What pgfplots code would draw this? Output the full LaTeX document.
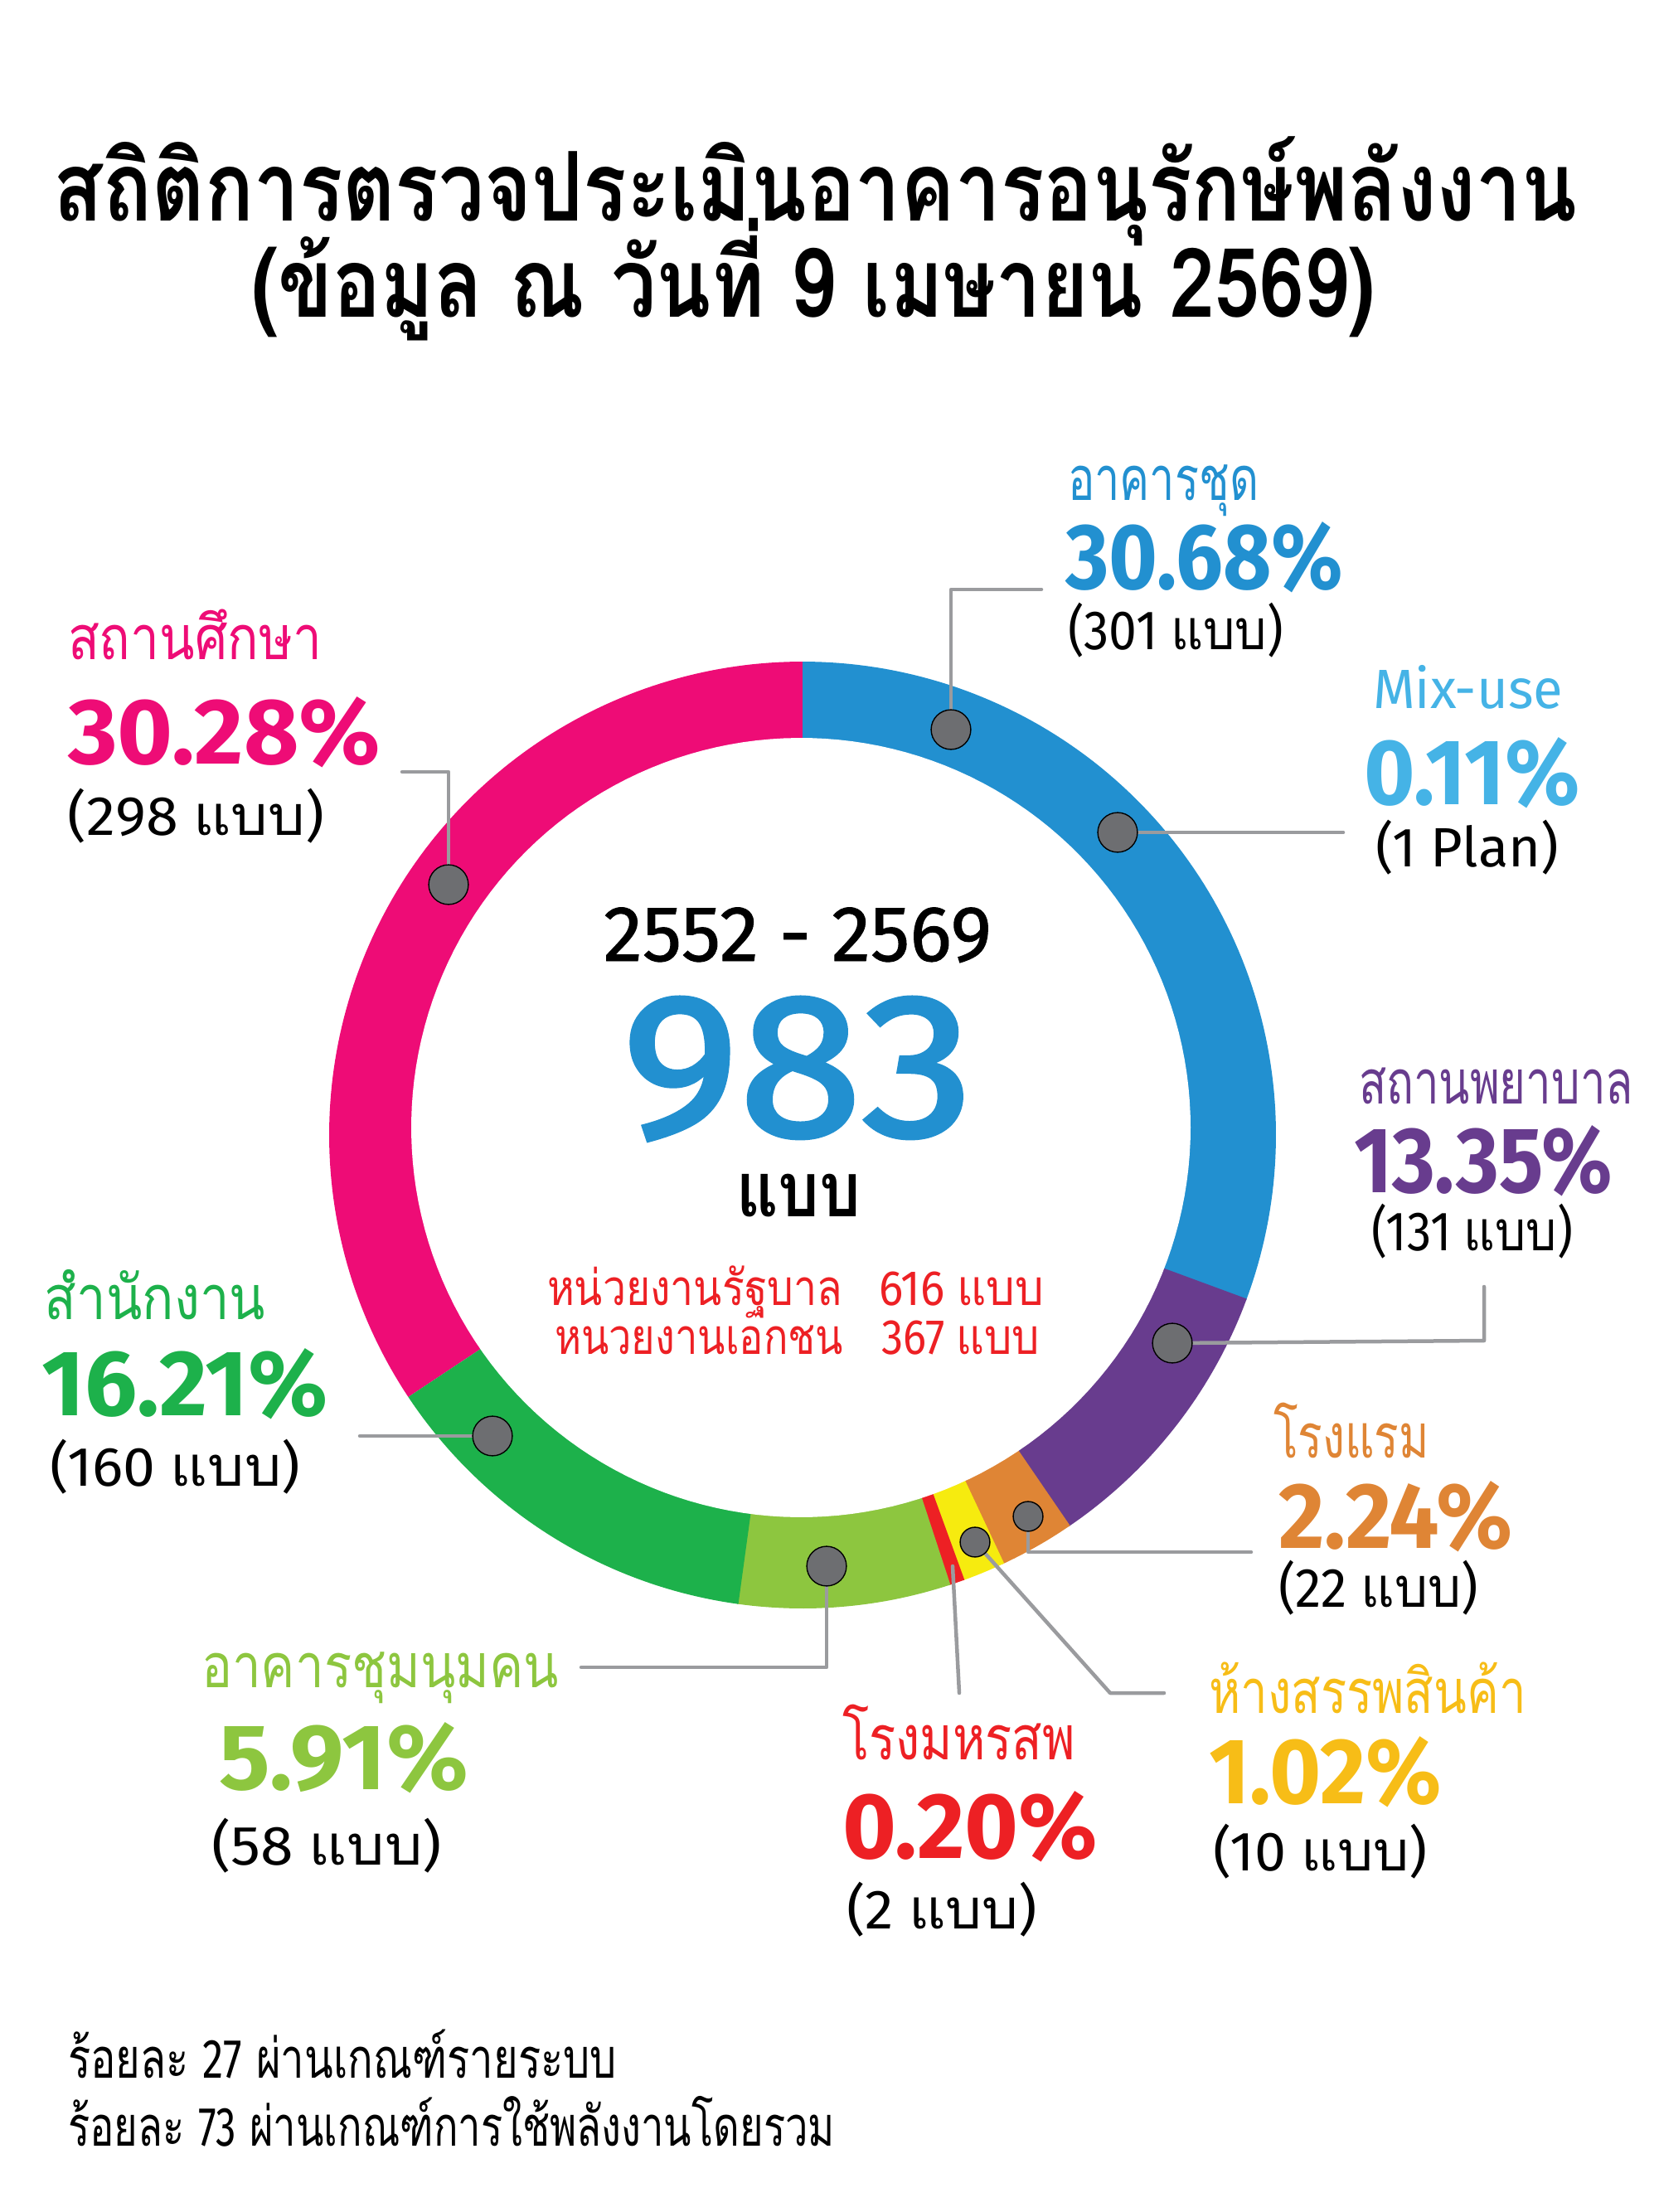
\documentclass[border=0pt]{standalone}
\usepackage{fontspec}
\usepackage{graphicx}
\usepackage{pgfplots}
\pgfplotsset{compat=1.18}
\setmainfont[Script=Thai]{Loma}
\newfontfamily\fira{Fira Sans}
\newfontfamily\firafb[FakeBold=2]{Fira Sans}
\newfontfamily\firamb[FakeBold=1]{Fira Sans}
\newlength\pxu \setlength\pxu{0.1mm}
\definecolor{cblue}{HTML}{2290D0}
\definecolor{clblue}{HTML}{45B3E6}
\definecolor{cpurple}{HTML}{683C8E}
\definecolor{corange}{HTML}{DF8535}
\definecolor{cyellow}{HTML}{F6EB0F}
\definecolor{cgold}{HTML}{F7BD17}
\definecolor{cred}{HTML}{ED2024}
\definecolor{clgreen}{HTML}{8DC63F}
\definecolor{cgreen}{HTML}{1DB14B}
\definecolor{cpink}{HTML}{EE0C76}
\definecolor{cdot}{HTML}{6D6E71}
\definecolor{cline}{HTML}{9A9B9E}
% x, y (baseline, px), width (px), colour, font, text
\newcommand\tx[6]{\node[anchor=base west, inner sep=0pt, outer sep=0pt, text=#4] at (axis cs:#1,#2) {\resizebox{#3\pxu}{\height}{#5#6}};}
\newcommand\thn{\fontsize{21}{24}\selectfont}
\newcommand\pct{\fontsize{32}{36}\selectfont\fira\bfseries}
\newcommand\cnt{\fontsize{19}{22}\selectfont}
\begin{document}
\begin{tikzpicture}
\begin{axis}[
  at={(0,0)}, anchor=south west,
  scale only axis, width=200.1mm, height=266.8mm,
  xmin=0, xmax=2001, ymin=0, ymax=2668, y dir=reverse,
  hide axis, clip=false]
\path (rel axis cs:0,0) rectangle (rel axis cs:1,1);
% ring: drawn boundaries (degrees, counter-clockwise from east), counts 301,1,131,22,10,2,58,160,298
\addplot[fill=cpink, draw=none, domain=89.7:213.6, samples=120] ({968+571*cos(x)},{1369-571*sin(x)}) -- (axis cs:968,1369) -- cycle;
\addplot[fill=cblue, draw=none, domain=-20.44:90, samples=100] ({968+571*cos(x)},{1369-571*sin(x)}) -- (axis cs:968,1369) -- cycle;
\addplot[fill=cpurple, draw=none, domain=-55.8:-20.24, samples=40] ({968+571*cos(x)},{1369-571*sin(x)}) -- (axis cs:968,1369) -- cycle;
\addplot[fill=corange, draw=none, domain=-65.0:-55.6, samples=12] ({968+571*cos(x)},{1369-571*sin(x)}) -- (axis cs:968,1369) -- cycle;
\addplot[fill=cyellow, draw=none, domain=-70.2:-64.8, samples=8] ({968+571*cos(x)},{1369-571*sin(x)}) -- (axis cs:968,1369) -- cycle;
\addplot[fill=cred, draw=none, domain=-72.0:-70.0, samples=4] ({968+571*cos(x)},{1369-571*sin(x)}) -- (axis cs:968,1369) -- cycle;
\addplot[fill=clgreen, draw=none, domain=-98.0:-71.8, samples=30] ({968+571*cos(x)},{1369-571*sin(x)}) -- (axis cs:968,1369) -- cycle;
\addplot[fill=cgreen, draw=none, domain=-146.4:-97.8, samples=50] ({968+571*cos(x)},{1369-571*sin(x)}) -- (axis cs:968,1369) -- cycle;
\addplot[fill=white, draw=none, domain=0:360, samples=180] ({966+470*cos(x)},{1360-470*sin(x)}) -- cycle;
% leader lines
\pgfplotsset{every axis plot/.append style={line cap=round, line join=round}}
\addplot[cline, line width=0.45mm] coordinates {(1147,880) (1147,711) (1256,711)};
\addplot[cline, line width=0.45mm] coordinates {(1348,1004) (1620,1004)};
\addplot[cline, line width=0.45mm] coordinates {(1414,1620) (1790,1617) (1790,1552)};
\addplot[cline, line width=0.45mm] coordinates {(1240,1829) (1240,1872) (1509,1872)};
\addplot[cline, line width=0.45mm] coordinates {(1176,1860) (1339,2042) (1404,2042)};
\addplot[cline, line width=0.45mm] coordinates {(1149,1889) (1157,2042)};
\addplot[cline, line width=0.45mm] coordinates {(997,1889) (997,2011) (701,2011)};
\addplot[cline, line width=0.45mm] coordinates {(594,1732) (434,1732)};
\addplot[cline, line width=0.45mm] coordinates {(541,1067) (541,931) (485,931)};
% dots
\addplot[only marks, mark=*, mark size=6.8pt, mark options={fill=cdot, draw=none}] coordinates {(1147,880) (1348,1004) (1414,1620) (997,1889) (594,1732) (541,1067)};
\addplot[only marks, mark=*, mark size=5.1pt, mark options={fill=cdot, draw=none}] coordinates {(1240,1829) (1176,1860)};
% title
\tx{65}{267}{1837}{black}{\fontsize{33}{36}\selectfont\bfseries}{สถิติการตรวจประเมินอาคารอนุรักษ์พลังงาน}
\tx{303}{383}{1356}{black}{\fontsize{33}{36}\selectfont\bfseries}{(ข้อมูล ณ วันที่ 9 เมษายน 2569)}
% labels
\tx{1288}{604}{230}{cblue}{\thn}{อาคารชุด}
\tx{1285}{711}{335}{cblue}{\pct}{30.68\%}
\tx{1288}{784}{260}{black}{\cnt}{{\fira (301 }แบบ{\fira )}}
\tx{1656}{854}{229}{clblue}{\fontsize{19}{22}\selectfont\fira}{Mix-use}
\tx{1645}{970}{261}{clblue}{\pct}{0.11\%}
\tx{1659}{1045}{221}{black}{\cnt\fira}{(1 Plan)}
\tx{1639}{1331}{331}{cpurple}{\thn}{สถานพยาบาล}
\tx{1633}{1438}{312}{cpurple}{\pct}{13.35\%}
\tx{1654}{1508}{243}{black}{\cnt}{{\fira (131 }แบบ{\fira )}}
\tx{1536}{1758}{188}{corange}{\thn}{โรงแรม}
\tx{1542}{1867}{282}{corange}{\pct}{2.24\%}
\tx{1542}{1938}{241}{black}{\cnt}{{\fira (22 }แบบ{\fira )}}
\tx{1458}{2066}{383}{cgold}{\thn}{ห้างสรรพสินค้า}
\tx{1458}{2175}{281}{cgold}{\pct}{1.02\%}
\tx{1463}{2256}{259}{black}{\cnt}{{\fira (10 }แบบ{\fira )}}
\tx{1016}{2122}{281}{cred}{\thn}{โรงมหรสพ}
\tx{1016}{2241}{308}{cred}{\pct}{0.20\%}
\tx{1021}{2326}{230}{black}{\cnt}{{\fira (2 }แบบ{\fira )}}
\tx{243}{2035}{431}{clgreen}{\thn}{อาคารชุมนุมคน}
\tx{264}{2158}{301}{clgreen}{\pct}{5.91\%}
\tx{255}{2249}{278}{black}{\cnt}{{\fira (58 }แบบ{\fira )}}
\tx{54}{1591}{266}{cgreen}{\thn}{สำนักงาน}
\tx{51}{1707}{345}{cgreen}{\pct}{16.21\%}
\tx{60}{1792}{302}{black}{\cnt}{{\fira (160 }แบบ{\fira )}}
\tx{82}{796}{306}{cpink}{\thn}{สถานศึกษา}
\tx{82}{921}{377}{cpink}{\pct}{30.28\%}
\tx{82}{1007}{309}{black}{\cnt}{{\fira (298 }แบบ{\fira )}}
% centre
\tx{728}{1159}{468}{black}{\fontsize{27}{30}\selectfont\firamb}{2552 - 2569}
\tx{750}{1370}{424}{cblue}{\fontsize{70}{74}\selectfont\firafb}{983}
\tx{888}{1467}{150}{black}{\fontsize{26}{30}\selectfont\bfseries}{แบบ}
\tx{660}{1574}{356}{cred}{\fontsize{17}{20}\selectfont}{หน่วยงานรัฐบาล}
\tx{1060}{1574}{199}{cred}{\fontsize{17}{20}\selectfont}{{\fira 616 }แบบ}
\tx{669}{1633}{348}{cred}{\fontsize{17}{20}\selectfont}{หนวยงานเอกชน}
\tx{1063}{1633}{191}{cred}{\fontsize{17}{20}\selectfont}{{\fira 367 }แบบ}
% notes
\tx{82}{2506}{662}{black}{\fontsize{19}{22}\selectfont}{ร้อยละ {\fira 27} ผ่านเกณฑ์รายระบบ}
\tx{82}{2588}{925}{black}{\fontsize{19}{22}\selectfont}{ร้อยละ {\fira 73} ผ่านเกณฑ์การใช้พลังงานโดยรวม}
\end{axis}
\end{tikzpicture}
\end{document}
